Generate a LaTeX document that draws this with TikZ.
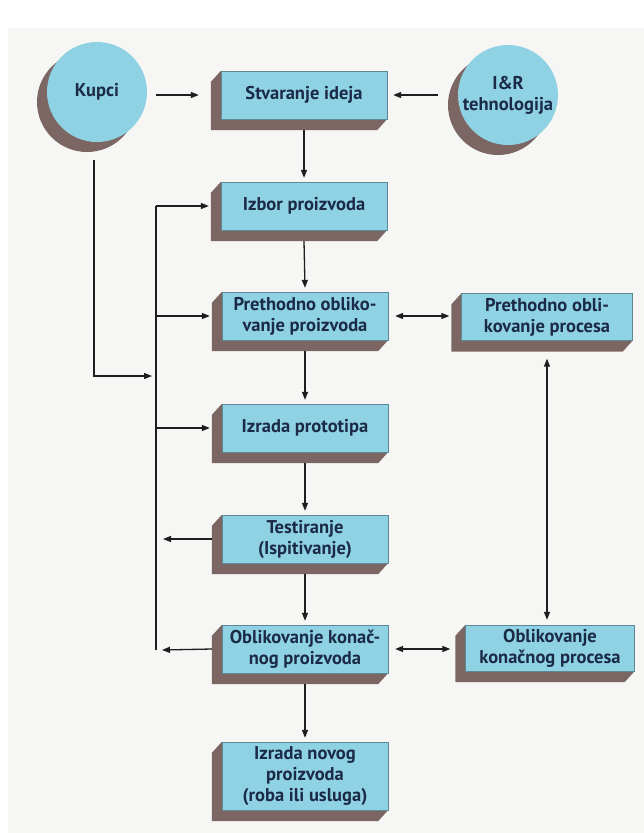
\documentclass[tikz,border=0pt]{standalone}
\usepackage{fontspec}
\setmainfont{PT Sans}
\usetikzlibrary{arrows.meta,calc}
\pgfdeclarelayer{bg}
\pgfdeclarelayer{ext}
\pgfsetlayers{bg,ext,main}
\definecolor{face}{HTML}{8FD2E4}
\definecolor{depth}{HTML}{7C6664}
\definecolor{ink}{HTML}{1B2A45}
\definecolor{paper}{HTML}{F6F6F4}
\definecolor{wire}{HTML}{1E1E1E}

\tikzset{
  txt/.style={text=ink, font=\bfseries\fontsize{18.5}{21}\selectfont, align=center, inner sep=0pt},
  blok/.style={txt, rectangle, fill=face, draw=face!65!black, line width=0.3pt,
               minimum width=166pt, minimum height=48pt},
  krug/.style={txt, circle, fill=face, minimum size=100pt},
  arr/.style={draw=wire, line width=1.3pt, -{Triangle[length=8pt,width=6pt]}},
  dbl/.style={draw=wire, line width=1.3pt, {Triangle[length=8pt,width=6pt]}-{Triangle[length=8pt,width=6pt]}},
  ln/.style={draw=wire, line width=1.3pt},
}

% extruded side and bottom of a block
\newcommand\extrude[1]{%
  \fill[depth] (#1.north west) -- ++(-10pt,-11pt)
    -- ($(#1.south west)+(-10pt,-11pt)$)
    -- ($(#1.south east)+(-10pt,-11pt)$)
    -- (#1.south east) -- (#1.south west) -- cycle;}
\newcommand\extrudecircle[1]{%
  \fill[depth] ($(#1.center)+(-10pt,-10pt)$) circle (50pt);}

\begin{document}
\begin{tikzpicture}[x=1pt, y=-1pt]
\useasboundingbox (0,0) rectangle (644,833);
\begin{pgfonlayer}{bg}
  \fill[white] (0,0) rectangle (644,833);
  \fill[paper] (8,28) rectangle (644,833);
\end{pgfonlayer}

% sources
\node[krug] (kupci) at (97,92) {Kupci};
\node[krug] (inr) at (508,95) {I\&R\\tehnologija};

% main column
\node[blok] (stv)   at (304,95)  {Stvaranje ideja};
\node[blok] (izbor) at (304,206) {Izbor proizvoda};
\node[blok] (pob)   at (305,316) {Prethodno obliko-\\vanje proizvoda};
\node[blok] (proto) at (305,428) {Izrada prototipa};
\node[blok] (test)  at (305,539) {Testiranje\\(Ispitivanje)};
\node[blok] (okp)   at (305,649) {Oblikovanje konač-\\nog proizvoda};
\node[blok, minimum height=68pt] (novi) at (305,776) {Izrada novog\\proizvoda\\(roba ili usluga)};

% process column
\node[blok, minimum width=171pt, minimum height=47pt] (pproc)  at (547,317) {Prethodno obli-\\kovanje procesa};
\node[blok, minimum width=169pt, minimum height=46pt] (okproc) at (550,648) {Oblikovanje\\konačnog procesa};

\begin{pgfonlayer}{ext}
  \extrudecircle{kupci}
  \extrudecircle{inr}
  \foreach \n in {stv,izbor,pob,proto,test,okp,novi,pproc,okproc} {\extrude{\n}}
\end{pgfonlayer}

% inputs to idea generation
\draw[arr] ([xshift=9pt]kupci.east |- stv.west) -- ([xshift=-22pt]stv.west);
\draw[arr] ([xshift=-20pt]inr.west |- stv.east) -- ([xshift=6pt]stv.east);

% main flow
\draw[arr] ([yshift=-11pt]stv.south)   -- ([yshift=4pt]izbor.north);
\draw[arr] ([yshift=-11pt]izbor.south) -- ([yshift=4pt]pob.north);
\draw[arr] ([yshift=-11pt]pob.south)   -- ([yshift=4pt]proto.north);
\draw[arr] ([yshift=-11pt]proto.south) -- ([yshift=4pt]test.north);
\draw[arr] ([yshift=-11pt]test.south)  -- ([yshift=4pt]okp.north);
\draw[arr] ([yshift=-11pt]okp.south)   -- ([yshift=4pt]novi.north);

% feedback loop on the left
\coordinate (lpT) at (156,206);
\coordinate (lpB) at (156,650);
\coordinate (kc)  at (94,376);
\draw[ln] (lpT) -- (lpB);
\draw[arr] (lpT) -- ([xshift=-12pt]izbor.west);
\draw[arr] (lpT |- pob.west) -- ([xshift=-12pt]pob.west);
\draw[arr] (lpT |- proto.west) -- ([xshift=-12pt]proto.west);
\draw[arr] ([xshift=-10pt]test.west) -- ([xshift=7pt]lpT |- test.west);
\draw[arr] ([xshift=-10pt]okp.west) -- ([xshift=6pt]lpB);
\draw[arr] ([shift={(-3pt,-18pt)}]kupci.south) |- ([xshift=-4pt]lpT |- kc);

% product and process design links
\draw[dbl] ([xshift=7pt]pob.east) -- ([xshift=-12pt]pproc.west |- pob.east);
\draw[dbl] ([xshift=7pt]okp.east) -- ([xshift=-15pt]okproc.west |- okp.east);
\draw[dbl] ([yshift=-18pt]pproc.south) -- ([yshift=5pt]pproc.south |- okproc.north);
\end{tikzpicture}
\end{document}
